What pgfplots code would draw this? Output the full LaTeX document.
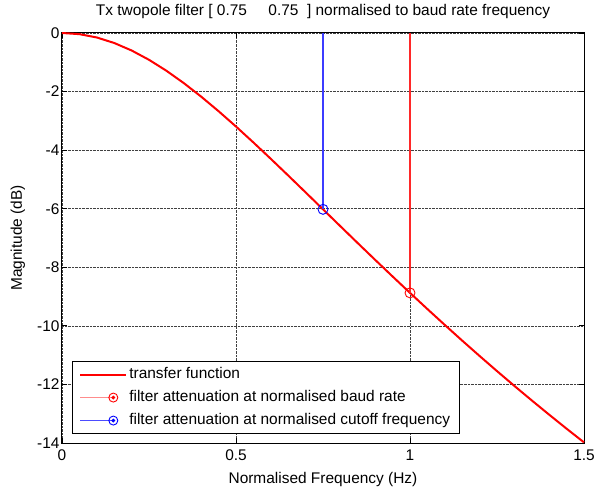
\documentclass[border=0pt]{standalone}
\usepackage{pgfplots}
\pgfplotsset{compat=1.18}
\usepackage{fontspec}
\setmainfont{Liberation Sans}
\definecolor{lblue}{RGB}{60,60,255}
\definecolor{lred}{RGB}{255,40,40}
\begin{document}
\begin{tikzpicture}
\begin{axis}[
  scale only axis, width=522bp, height=410bp,
  xmin=0, xmax=1.5, ymin=-14, ymax=0,
  xtick={0,0.5,1,1.5}, ytick={-14,-12,-10,-8,-6,-4,-2,0},
  /pgf/number format/assume math mode=true,
  font=\fontsize{15.5}{18}\selectfont,
  axis line style={line width=1bp, black},
  tick style={line width=0.8bp, black},
  major tick length=5bp,
  grid=major,
  grid style={densely dotted, black!75, line width=0.5bp},
  xticklabel style={yshift=-3bp},
  yticklabel style={xshift=1bp},
  title={Tx twopole filter [ 0.75\ \ \ \ \ 0.75\ \ ] normalised to baud rate frequency},
  title style={at={([yshift=12bp]axis description cs:0.5,1)}, anchor=base},
  xlabel={Normalised Frequency (Hz)},
  xlabel style={at={([yshift=-40bp]axis description cs:0.5,0)}, anchor=base},
  ylabel={Magnitude (dB)},
  ylabel style={at={([xshift=-40bp]axis description cs:0,0.5)}, anchor=base, rotate=0},
  legend style={at={(0.019,0.022)}, anchor=south west, draw=black, line width=0.8bp,
    inner xsep=7bp, inner ysep=3.5bp, row sep=4bp,
    cells={anchor=west},
    nodes={inner sep=2bp, text height=11.5bp, text depth=3.5bp},
    font=\fontsize{15.5}{18}\selectfont},
  clip=false,
]
\addplot[red, line width=2bp,
  legend image code/.code={\draw[red, line width=2bp] (0bp,0bp) -- (46bp,0bp);}]
  table {
x y
0 0
0.05 -0.039
0.1 -0.153
0.15 -0.341
0.2 -0.597
0.25 -0.915
0.3 -1.289
0.35 -1.711
0.4 -2.174
0.45 -2.671
0.5 -3.194
0.55 -3.738
0.6 -4.297
0.65 -4.866
0.7 -5.442
0.75 -6.021
0.8 -6.599
0.85 -7.176
0.9 -7.748
0.95 -8.314
1.0 -8.874
1.05 -9.426
1.1 -9.969
1.15 -10.504
1.2 -11.029
1.25 -11.545
1.3 -12.051
1.35 -12.547
1.4 -13.034
1.45 -13.512
1.5 -13.979
};
\addlegendentry{transfer function}
\addplot[lred, line width=1.1bp, mark=o, mark size=5bp,
  mark options={red, line width=0.9bp}, mark indices={2},
  legend image code/.code={
    \draw[red!45, line width=1.2bp] (0bp,0bp) -- (33bp,0bp);
    \draw[red, line width=0.9bp] (33bp,0bp) circle (4.5bp);
    \fill[red] (33bp,0bp) circle (1.3bp);}]
  coordinates {(1,0) (1,-8.874)};
\addlegendentry{filter attenuation at normalised baud rate}
\addplot[lblue, line width=1.1bp, mark=o, mark size=5bp,
  mark options={blue, line width=0.9bp}, mark indices={2},
  legend image code/.code={
    \draw[blue!70, line width=1.2bp] (0bp,0bp) -- (33bp,0bp);
    \draw[blue, line width=0.9bp] (33bp,0bp) circle (4.5bp);
    \fill[blue] (33bp,0bp) circle (1.3bp);}]
  coordinates {(0.75,0) (0.75,-6.021)};
\addlegendentry{filter attenuation at normalised cutoff frequency}
\coordinate (sw) at (rel axis cs:0,0);
\end{axis}
\pgfresetboundingbox
\path ([xshift=-62bp,yshift=-46bp]sw) rectangle ++(595bp,489bp);
\end{tikzpicture}
\end{document}
